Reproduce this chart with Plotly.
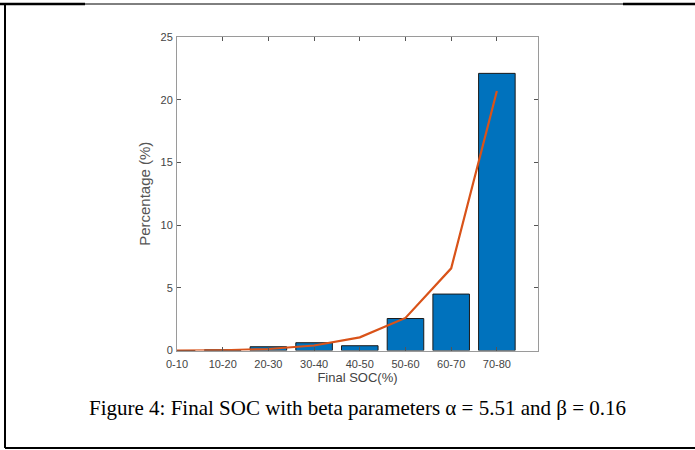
import plotly.graph_objects as go

categories = ["0-10", "10-20", "20-30", "30-40", "40-50", "50-60", "60-70", "70-80"]
bar_values = [0.0, 0.05, 0.3, 0.62, 0.38, 2.55, 4.5, 22.1]
fit_values = [0.0, 0.02, 0.12, 0.4, 1.05, 2.6, 6.55, 20.7]
y_ticks = [0, 5, 10, 15, 20, 25]
caption = "Figure 4: Final SOC with beta parameters \u03b1 = 5.51 and \u03b2 = 0.16"

W, H = 695, 450
def px(x):
    return x / W
def py(y):
    return 1 - y / H

fig = go.Figure()
fig.add_trace(go.Bar(
    x=categories, y=bar_values, width=0.8,
    marker=dict(color="#0072BD", line=dict(color="#1a1a1a", width=1)),
    showlegend=False,
))
fig.add_trace(go.Scatter(
    x=categories, y=fit_values, mode="lines",
    line=dict(color="#D95319", width=2.2),
    showlegend=False, cliponaxis=True,
))

axis_font = dict(family="Liberation Sans, Arial, sans-serif", size=11, color="#444444")
fig.update_layout(
    template="none",
    width=W, height=H,
    margin=dict(l=0, r=0, t=0, b=0, pad=0, autoexpand=False),
    paper_bgcolor="white", plot_bgcolor="white",
    xaxis=dict(
        domain=[px(177), px(538)], automargin=False,
        type="category", range=[0, 7.9],
        showline=True, linecolor="#9a9a9a", linewidth=1, mirror="ticks",
        ticks="inside", ticklen=4, tickcolor="#555555",
        tickfont=axis_font, showgrid=False, zeroline=False,
        ticklabelstandoff=3,
        title=dict(text="Final SOC(%)", font=dict(family="Liberation Sans, Arial, sans-serif", size=13, color="#444444"), standoff=1),
    ),
    yaxis=dict(
        domain=[py(350.5), py(37)], automargin=False,
        range=[0, 25], tickvals=y_ticks,
        showline=True, linecolor="#9a9a9a", linewidth=1, mirror="ticks",
        ticks="inside", ticklen=4, tickcolor="#555555",
        tickfont=axis_font, showgrid=False, zeroline=False,
        ticklabelstandoff=1,
        title=dict(text="Percentage (%)", font=dict(family="Liberation Sans, Arial, sans-serif", size=15, color="#555555"), standoff=6),
    ),
    bargap=0.2,
)

fig.add_annotation(
    x=px(357), y=py(408), xref="paper", yref="paper",
    text=caption, showarrow=False, xanchor="center", yanchor="middle",
    font=dict(family="Liberation Serif, Times New Roman, serif", size=21, color="black"),
)

shapes = [
    dict(type="line", x0=px(5), x1=px(5), y0=py(4), y1=py(448), line=dict(color="black", width=2)),
    dict(type="line", x0=px(5), x1=px(695), y0=py(448), y1=py(448), line=dict(color="black", width=2)),
    dict(type="line", x0=px(85), x1=px(623), y0=py(4), y1=py(4), line=dict(color="black", width=1)),
    dict(type="line", x0=px(0), x1=px(85), y0=py(4), y1=py(4), line=dict(color="black", width=2.5)),
    dict(type="line", x0=px(623), x1=px(695), y0=py(4), y1=py(4), line=dict(color="black", width=2.5)),
]
for s in shapes:
    s.update(xref="paper", yref="paper")
fig.update_layout(shapes=shapes)

fig.write_html(
    "out.html",
    config={"displayModeBar": False},
    post_script="document.body.style.margin='0px';document.body.style.overflow='hidden';",
)
